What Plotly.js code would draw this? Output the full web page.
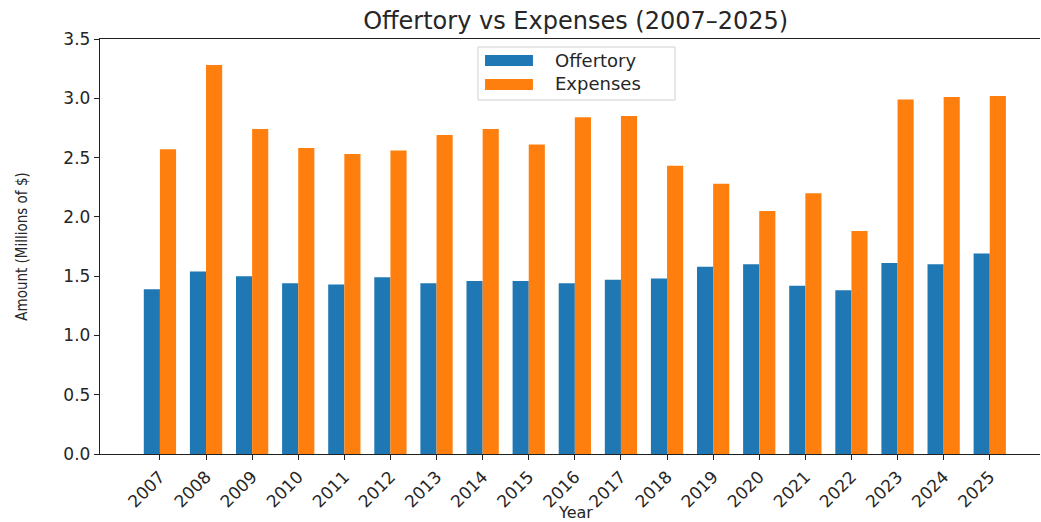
<!DOCTYPE html>
<html>
<head>
<meta charset="utf-8">
<script src="https://cdn.plot.ly/plotly-3.0.1.min.js"></script>
<style>html,body{margin:0;padding:0;background:#fff;}#chart{width:1041px;height:522px;}</style>
</head>
<body>
<div id="chart"></div>
<script>
const years = ["2007","2008","2009","2010","2011","2012","2013","2014","2015","2016","2017","2018","2019","2020","2021","2022","2023","2024","2025"];
const offertory = [1.39,1.54,1.50,1.44,1.43,1.49,1.44,1.46,1.46,1.44,1.47,1.48,1.58,1.60,1.42,1.38,1.61,1.60,1.69];
const expenses  = [2.57,3.28,2.74,2.58,2.53,2.56,2.69,2.74,2.61,2.84,2.85,2.43,2.28,2.05,2.20,1.88,2.99,3.01,3.02];
const seriesNames = ["Offertory","Expenses"];
const colors = ["#1f77b4","#ff7f0e"];

const font = "DejaVu Sans, sans-serif";
const traces = [
  {type:"bar", x:years, y:offertory, name:seriesNames[0], marker:{color:colors[0], line:{width:0}}, showlegend:false},
  {type:"bar", x:years, y:expenses, name:seriesNames[1], marker:{color:colors[1], line:{width:0}}, showlegend:false}
];

// matplotlib-style legend box (paper coordinates)
const shapes = [
  {type:"rect", xref:"paper", yref:"paper", x0:0.4021, x1:0.6117, y0:0.853, y1:0.9807, line:{color:"#d0d0d0", width:1}, fillcolor:"rgba(255,255,255,0.8)"},
  {type:"rect", xref:"paper", yref:"paper", x0:0.4096, x1:0.4606, y0:0.9349, y1:0.9614, line:{width:0}, fillcolor:colors[0]},
  {type:"rect", xref:"paper", yref:"paper", x0:0.4096, x1:0.4606, y0:0.8771, y1:0.9036, line:{width:0}, fillcolor:colors[1]}
];
const annotations = [
  {xref:"paper", yref:"paper", x:0.4819, y:0.947, xanchor:"left", yanchor:"middle", text:seriesNames[0], showarrow:false, font:{family:font, size:18, color:"#262626"}},
  {xref:"paper", yref:"paper", x:0.4819, y:0.8916, xanchor:"left", yanchor:"middle", text:seriesNames[1], showarrow:false, font:{family:font, size:18, color:"#262626"}},
  {xref:"paper", yref:"paper", x:0.506, y:-0.14, xanchor:"center", yanchor:"middle", text:"Year", showarrow:false, font:{family:font, size:16, color:"#262626"}}
];

const layout = {
  width:1041, height:522,
  margin:{l:100, r:1, t:39, b:68},
  paper_bgcolor:"#fff", plot_bgcolor:"#fff",
  barmode:"group", bargap:0.3, bargroupgap:0,
  title:{text:"Offertory vs Expenses (2007–2025)", font:{family:font, size:24, color:"#262626"}, x:0.553, xanchor:"center", y:0.96, yanchor:"middle"},
  xaxis:{type:"category", range:[-1.3, 19.09], showline:true, linecolor:"#222", linewidth:1.2, mirror:true,
         ticks:"outside", ticklen:5, tickcolor:"#222", tickangle:-45, showgrid:false, zeroline:false,
         tickfont:{family:font, size:17, color:"#262626"}},
  yaxis:{range:[0,3.5], dtick:0.5, tickformat:".1f", showline:true, linecolor:"#222", linewidth:1.2, mirror:false,
         ticks:"outside", ticklen:5, tickcolor:"#222", showgrid:false, zeroline:false,
         tickfont:{family:font, size:17, color:"#262626"},
         title:{text:"Amount (Millions of $)", font:{family:"DejaVu Sans Condensed, DejaVu Sans, sans-serif", size:15, color:"#262626"}, standoff:32}},
  shapes:shapes, annotations:annotations
};
Plotly.newPlot("chart", traces, layout, {displayModeBar:false, staticPlot:true});
</script>
</body>
</html>
